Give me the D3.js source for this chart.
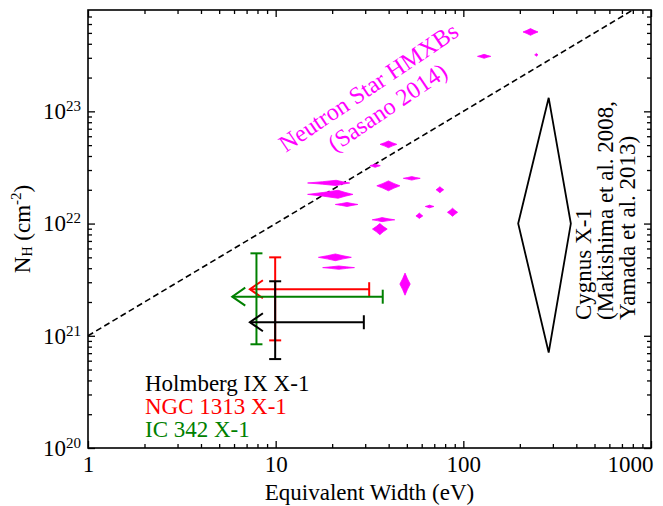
<!DOCTYPE html>
<html>
<head>
<meta charset="utf-8">
<script src="https://cdn.jsdelivr.net/npm/d3@7"></script>
<style>
  body { margin: 0; background: #fff; }
  text { font-family: "Liberation Serif", "Times New Roman", serif; }
</style>
</head>
<body>
<svg id="chart" width="663" height="506"></svg>
<script>
// Sasano (2014) neutron star HMXBs: centre and range of EW (eV) and NH (cm^-2)
const hmxbEW   = [228, 129, 245, 39.9, 33.9, 21.0, 21.5, 24.0, 39.9, 53.1, 75, 66.1, 58.3, 87.6, 36.9, 35.9, 20.8, 21.7, 48.9];
const hmxbEWlo = [208, 119, 240, 36.0, 31.8, 14.8, 14.8, 20.8, 34.6, 47.9, 71.6, 62.7, 55.9, 82.3, 32.7, 32.8, 16.9, 17.8, 45.9];
const hmxbEWhi = [250, 140, 250, 44.2, 36.1, 24.8, 25.8, 27.4, 45.9, 58.9, 78.6, 69.7, 60.8, 93.2, 43.1, 39.3, 25.3, 26.3, 52.1];
const hmxbNH   = [5.1e23, 3.09e23, 3.19e23, 5.08e22, 3.28e22, 2.30e22, 1.82e22, 1.48e22, 2.17e22, 2.53e22, 2.0e22, 1.42e22, 1.17e22, 1.26e22, 1.08e22, 8.93e21, 5.0e21, 4.05e21, 2.89e21];
const hmxbNHlo = [4.76e23, 2.97e23, 3.10e23, 4.74e22, 3.17e22, 2.18e22, 1.68e22, 1.42e22, 1.96e22, 2.44e22, 1.88e22, 1.38e22, 1.11e22, 1.16e22, 1.04e22, 7.96e21, 4.67e21, 3.91e21, 2.30e21];
const hmxbNHhi = [5.46e23, 3.22e23, 3.28e23, 5.44e22, 3.40e22, 2.43e22, 1.98e22, 1.54e22, 2.40e22, 2.62e22, 2.13e22, 1.46e22, 1.24e22, 1.37e22, 1.13e22, 1.0e22, 5.36e21, 4.19e21, 3.62e21];

// Cygnus X-1 region (left, centre, right EW; bottom, centre, top NH)
const cygEW = [196, 285, 374];
const cygNH = [7.1e20, 1e22, 1.32e23];

// ULXs
const ulxNames   = ["Holmberg IX X-1", "NGC 1313 X-1", "IC 342 X-1"];
const ulxColors  = ["#000000", "#ff0000", "#008000"];
const ulxEWbar   = [9.94, 9.94, 7.9];
const ulxEWlim   = [29.5, 31.5, 37.2];
const ulxEWarrow = [7.29, 7.29, 5.87];
const ulxNH      = [1.32e21, 2.6e21, 2.23e21];
const ulxNHlo    = [6.2e20, 9.1e20, 8.4e20];
const ulxNHhi    = [3.06e21, 5.0e21, 5.43e21];

// NH = 1e21 * EW reference line
const refEW = [1, 800];
const refNH = [1e21, 8e23];

const ewMajor = [1, 10, 100, 1000];
const nhExp = [20, 21, 22, 23];

const L = 88, R = 651, T = 10, B = 448;
const svg = d3.select("#chart");

const x = d3.scaleLog().domain([1, 1000]).range([L, R]);
const y = d3.scaleLog().domain([1e20, 8e23]).range([B, T]);

let ewMinor = [];
[1, 10, 100].forEach(d => { for (let m = 2; m <= 9; m++) ewMinor.push(d * m); });
let nhMinor = [];
nhExp.forEach(e => { for (let m = 2; m <= 9; m++) { let v = m * Math.pow(10, e); if (v <= 8e23) nhMinor.push(v); } });
const nhMajor = nhExp.map(e => Math.pow(10, e));

function styleAxis(g) {
    g.select(".domain").remove();
    g.selectAll("line").attr("stroke", "#000").attr("stroke-width", 1.3);
    g.attr("font-family", null).attr("font-size", 23);
    g.selectAll("text").attr("fill", "#000");
}

// minor ticks, all four sides
svg.append("g").attr("transform", "translate(0," + B + ")")
    .call(d3.axisBottom(x).tickValues(ewMinor).tickSize(-4).tickSizeOuter(0).tickFormat("")).call(styleAxis);
svg.append("g").attr("transform", "translate(0," + T + ")")
    .call(d3.axisTop(x).tickValues(ewMinor).tickSize(-4).tickSizeOuter(0).tickFormat("")).call(styleAxis);
svg.append("g").attr("transform", "translate(" + L + ",0)")
    .call(d3.axisLeft(y).tickValues(nhMinor).tickSize(-4).tickSizeOuter(0).tickFormat("")).call(styleAxis);
svg.append("g").attr("transform", "translate(" + R + ",0)")
    .call(d3.axisRight(y).tickValues(nhMinor).tickSize(-4).tickSizeOuter(0).tickFormat("")).call(styleAxis);

// major ticks
const xAxis = svg.append("g").attr("transform", "translate(0," + B + ")")
    .call(d3.axisBottom(x).tickValues(ewMajor).tickSize(-7).tickSizeOuter(0).tickPadding(8).tickFormat(d => String(d)))
    .call(styleAxis);
xAxis.selectAll(".tick text").filter(d => d === 1000).attr("text-anchor", "end").attr("x", 2);
svg.append("g").attr("transform", "translate(0," + T + ")")
    .call(d3.axisTop(x).tickValues(ewMajor).tickSize(-7).tickSizeOuter(0).tickFormat("")).call(styleAxis);
const yAxis = svg.append("g").attr("transform", "translate(" + L + ",0)")
    .call(d3.axisLeft(y).tickValues(nhMajor).tickSize(-7).tickSizeOuter(0).tickPadding(7).tickFormat(""))
    .call(styleAxis);
yAxis.selectAll(".tick text").each(function(d) {
    let t = d3.select(this);
    t.append("tspan").text("10");
    t.append("tspan").attr("dy", -8).attr("font-size", 15).text(Math.round(Math.log10(d)));
});
svg.append("g").attr("transform", "translate(" + R + ",0)")
    .call(d3.axisRight(y).tickValues(nhMajor).tickSize(-7).tickSizeOuter(0).tickFormat("")).call(styleAxis);

// frame
svg.append("rect").attr("x", L).attr("y", T).attr("width", R - L).attr("height", B - T)
    .attr("fill", "none").attr("stroke", "#000").attr("stroke-width", 1.6);

// axis titles
svg.append("text").attr("x", (L + R) / 2).attr("y", 500).attr("text-anchor", "middle")
    .attr("font-size", 23).text("Equivalent Width (eV)");
const yt = svg.append("text").attr("transform", "translate(30," + ((T + B) / 2) + ") rotate(-90)")
    .attr("text-anchor", "middle").attr("font-size", 23);
yt.append("tspan").text("N");
yt.append("tspan").attr("font-size", 14).attr("dy", 2).text("H");
yt.append("tspan").attr("dy", -2).text(" (cm");
yt.append("tspan").attr("font-size", 15).attr("dy", -9).text("-2");
yt.append("tspan").attr("dy", 9).text(")");

const plot = svg.append("g");

// reference line
plot.append("path")
    .attr("d", d3.line().x(d => x(d[0])).y(d => y(d[1]))(d3.zip(refEW, refNH)))
    .attr("fill", "none").attr("stroke", "#000").attr("stroke-width", 1.6)
    .attr("stroke-dasharray", "6,3.5");

// HMXB diamonds (slightly pinched)
function pinched(i) {
    const cx = x(hmxbEW[i]), cy = y(hmxbNH[i]);
    const pts = [[x(hmxbEWlo[i]), cy], [cx, y(hmxbNHhi[i])], [x(hmxbEWhi[i]), cy], [cx, y(hmxbNHlo[i])]];
    const p = d3.path();
    p.moveTo(pts[0][0], pts[0][1]);
    for (let k = 1; k <= 4; k++) {
        const a = pts[k - 1], b = pts[k % 4];
        const mx = (a[0] + b[0]) / 2, my = (a[1] + b[1]) / 2;
        p.quadraticCurveTo(mx + 0.1 * (cx - mx), my + 0.1 * (cy - my), b[0], b[1]);
    }
    p.closePath();
    return p.toString();
}
plot.selectAll(".hmxb").data(d3.range(hmxbEW.length)).enter().append("path")
    .attr("class", "hmxb").attr("d", pinched).attr("fill", "#ff00ff")
    .attr("stroke", "#ff00ff").attr("stroke-width", 0.8);

// Cygnus X-1
plot.append("path")
    .attr("d", d3.line()([
        [x(cygEW[0]), y(cygNH[1])], [x(cygEW[1]), y(cygNH[2])],
        [x(cygEW[2]), y(cygNH[1])], [x(cygEW[1]), y(cygNH[0])]]) + "Z")
    .attr("fill", "none").attr("stroke", "#000").attr("stroke-width", 1.8).attr("stroke-linejoin", "miter");

// ULX error bars with upper-limit arrows
[1, 2, 0].forEach(i => {
    const g = plot.append("g").attr("stroke", ulxColors[i]).attr("stroke-width", 2).attr("fill", "none");
    const bx = x(ulxEWbar[i]), cy = y(ulxNH[i]);
    const yl = y(ulxNHlo[i]), yh = y(ulxNHhi[i]);
    const xl = x(ulxEWlim[i]), xa = x(ulxEWarrow[i]);
    g.append("line").attr("x1", bx).attr("x2", bx).attr("y1", yl).attr("y2", yh);
    g.append("line").attr("x1", bx - 6).attr("x2", bx + 6).attr("y1", yl).attr("y2", yl);
    g.append("line").attr("x1", bx - 6).attr("x2", bx + 6).attr("y1", yh).attr("y2", yh);
    g.append("line").attr("x1", xa).attr("x2", xl).attr("y1", cy).attr("y2", cy);
    g.append("line").attr("x1", xl).attr("x2", xl).attr("y1", cy - 7).attr("y2", cy + 7);
    g.append("path").attr("d", "M" + (xa + 13) + "," + (cy - 9) + "L" + xa + "," + cy + "L" + (xa + 13) + "," + (cy + 9));
});

// legend
ulxNames.forEach((n, i) => {
    svg.append("text").attr("x", 145).attr("y", 391 + 23 * i).attr("font-size", 23)
        .attr("fill", ulxColors[i]).text(n);
});

// annotations
svg.append("text").attr("transform", "translate(373,94) rotate(-34)").attr("text-anchor", "middle")
    .attr("font-size", 24).attr("fill", "#ff00ff").text("Neutron Star HMXBs");
svg.append("text").attr("transform", "translate(392,114) rotate(-34)").attr("text-anchor", "middle")
    .attr("font-size", 24).attr("fill", "#ff00ff").text("(Sasano 2014)");

["Cygnus X-1", "(Makishima et al. 2008,", "Yamada et al. 2013)"].forEach((s, i) => {
    svg.append("text").attr("transform", "translate(" + (591 + 22 * i) + ",320) rotate(-90)")
        .attr("font-size", 23).text(s);
});
</script>
</body>
</html>
